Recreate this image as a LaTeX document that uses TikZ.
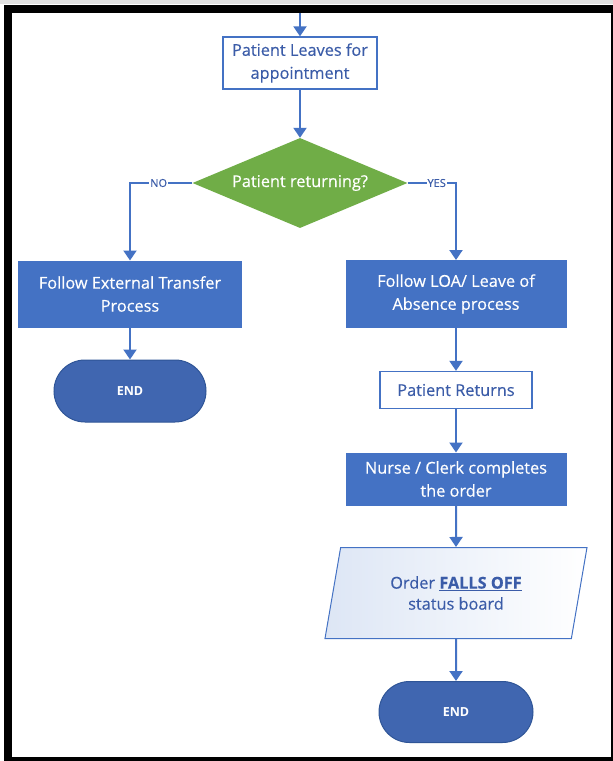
\documentclass[tikz,border=0pt]{standalone}
\usepackage{fontspec}
\setmainfont{Open Sans}
\newfontfamily\flowfont[FakeBold=0.35]{Open Sans}
\usetikzlibrary{shapes.geometric,shapes.misc,arrows.meta}

\definecolor{flowblue}{HTML}{4472C4}
\definecolor{textblue}{HTML}{3B5CA8}
\definecolor{endblue}{HTML}{4066B0}
\definecolor{enddark}{HTML}{2F5597}
\definecolor{decgreen}{HTML}{70AD47}
\definecolor{paleblue}{HTML}{DDE6F5}

\tikzset{
  boxfont/.style={font=\flowfont\fontsize{16.3}{23}\selectfont},
  procbox/.style={rectangle, draw=flowblue, line width=1pt, fill=flowblue,
    text=white, align=center, inner sep=0pt, boxfont},
  plainbox/.style={rectangle, draw=flowblue, line width=1.3pt, fill=white,
    text=textblue, align=center, inner sep=0pt, boxfont},
  termbox/.style={rounded rectangle, draw=enddark, line width=1pt, fill=endblue,
    text=white, inner sep=0pt, font=\bfseries\fontsize{12.5}{14}\selectfont},
  decbox/.style={diamond, aspect=2.39, fill=decgreen, text=white, inner sep=0pt,
    boxfont},
  iobox/.style={trapezium, trapezium left angle=65, trapezium right angle=115,
    trapezium stretches body, draw=flowblue, line width=1pt,
    shading angle=135, left color=paleblue, right color=white,
    text=textblue, align=center, inner sep=0pt,
    font=\flowfont\fontsize{16.3}{21}\selectfont},
  flow/.style={draw=flowblue, line width=2pt,
    -{Triangle[width=13pt,length=10pt]}},
  branch/.style={fill=white, text=textblue, inner sep=1pt,
    font=\flowfont\fontsize{11}{12}\selectfont},
}

\begin{document}
\begin{tikzpicture}[x=1pt,y=-1pt]
  % page and frame
  \useasboundingbox (0,0) rectangle (613,761);
  \fill[white] (0,0) rectangle (613,761);
  \fill[black!12] (0,0) rectangle (613,4);
  \fill[black] (4,5) rectangle (613,761);
  \fill[white] (12,13) rectangle (611,757);

  % nodes
  \coordinate (entry) at (300,13);
  \node[plainbox, minimum width=154pt, minimum height=52pt] (leave) at (300,63)
    {Patient Leaves for\\appointment};
  \node[decbox, minimum width=215pt, minimum height=90pt] (ask) at (300,183)
    {Patient returning?};
  \node[procbox, minimum width=223pt, minimum height=66pt] (ext) at (130,294)
    {Follow External Transfer\\Process};
  \node[termbox, minimum width=152pt, minimum height=62pt] (endA) at (130,391)
    {END};
  \node[procbox, minimum width=220pt, minimum height=67pt] (loa) at (456,294)
    {Follow LOA/ Leave of\\Absence process};
  \node[plainbox, minimum width=152pt, minimum height=37pt] (back) at (456,390)
    {Patient Returns};
  \node[procbox, minimum width=220pt, minimum height=52pt] (nurse) at (456,479)
    {Nurse / Clerk completes\\the order};
  \node[iobox, minimum width=262pt, minimum height=91pt] (falls) at (456,593)
    {Order \underline{\textbf{FALLS OFF}}\\status board};
  \node[termbox, minimum width=154pt, minimum height=61pt] (endB) at (456,712)
    {END};

  % connectors
  \draw[flow] (entry) -- (leave.north);
  \draw[flow] (leave.south) -- (ask.north);
  \draw[flow] (ask.west) -| node[branch, pos=0.27] {NO} (ext.north);
  \draw[flow] (ask.east) -| node[branch, pos=0.3] {YES} (loa.north);
  \draw[flow] (ext.south) -- (endA.north);
  \draw[flow] (loa.south) -- (back.north);
  \draw[flow] (back.south) -- (nurse.north);
  \draw[flow] (nurse.south) -- (falls.north);
  \draw[flow] (falls.south) -- (endB.north);
\end{tikzpicture}
\end{document}
